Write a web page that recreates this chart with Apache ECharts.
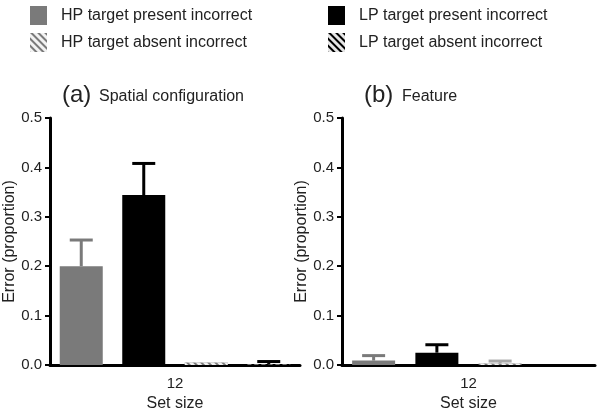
<!DOCTYPE html>
<html>
<head>
<meta charset="utf-8">
<script src="https://cdn.jsdelivr.net/npm/echarts@6/dist/echarts.min.js"></script>
<style>html,body{margin:0;padding:0;background:#fff}#c{width:601px;height:413px}</style>
</head>
<body>
<div id="c"></div>
<script>
const categories = ['12'];
const seriesNames = ['HP target present incorrect', 'LP target present incorrect', 'HP target absent incorrect', 'LP target absent incorrect'];
const slots = ['HP present', 'LP present', 'HP absent', 'LP absent'];
const spatialMeans = [0.200, 0.344, 0.005, 0.001];
const spatialErrTop = [0.253, 0.408, null, 0.007];
const featureMeans = [0.009, 0.025, 0.003, 0];
const featureErrTop = [0.019, 0.041, 0.008, null];
const panelTitles = [['(a)', 'Spatial configuration'], ['(b)', 'Feature']];
const yMin = 0, yMax = 0.5, yStep = 0.1;

const FONT = '"Liberation Sans", Arial, Helvetica, sans-serif';
const GRAY = '#7a7a7a';
const barColors = [GRAY, '#000', GRAY, '#000'];
const errColors = [GRAY, '#000', '#a8a8a8', '#000'];
const hatch = {symbol: 'rect', symbolSize: 1, dashArrayX: [1, 0], dashArrayY: [3, 2], rotation: Math.PI / 4, color: 'rgba(255,255,255,0.9)'};

const chart = echarts.init(document.getElementById('c'), null, {renderer: 'canvas'});

const grids = [
  {left: 50, right: 301, top: 118, bottom: 48, containLabel: false, outerBoundsMode: 'none'},
  {left: 342, right: 6, top: 118, bottom: 48, containLabel: false, outerBoundsMode: 'none'}
];

const xAxes = [], yAxes = [], series = [];
const panels = [[spatialMeans, spatialErrTop, 30], [featureMeans, featureErrTop, 26]];
panels.forEach(([means, errs, nameGap], g) => {
  xAxes.push({
    type: 'category', gridIndex: g, data: categories, position: 'bottom',
    axisLine: {lineStyle: {color: '#000', width: 3}},
    axisTick: {show: false},
    axisLabel: {fontSize: 15, color: '#222', fontFamily: FONT, margin: 11},
    name: 'Set size', nameLocation: 'middle', nameGap: 28,
    nameTextStyle: {fontSize: 16, color: '#222', fontFamily: FONT}
  });
  xAxes.push({
    type: 'category', gridIndex: g, data: slots, show: false
  });
  yAxes.push({
    type: 'value', gridIndex: g, min: yMin, max: yMax, interval: yStep,
    axisLine: {show: true, lineStyle: {color: '#000', width: 3}},
    axisTick: {show: true, length: 5, lineStyle: {color: '#000', width: 2}},
    splitLine: {show: false},
    axisLabel: {fontSize: 15, color: '#222', fontFamily: FONT, margin: 8, formatter: v => v.toFixed(1)},
    name: 'Error (proportion)', nameLocation: 'middle', nameGap: nameGap,
    nameTextStyle: {fontSize: 16, color: '#222', fontFamily: FONT}
  });
  const hiddenX = g * 2 + 1;
  seriesNames.forEach((nm, i) => {
    const item = {color: barColors[i]};
    if (i >= 2) item.decal = hatch;
    series.push({
      type: 'bar', name: nm, xAxisIndex: hiddenX, yAxisIndex: g,
      barWidth: 43, barGap: '-100%',
      itemStyle: item,
      data: slots.map((s, j) => j === i ? means[i] : '-'),
      z: 2
    });
  });
  const errData = [];
  errs.forEach((t, i) => { if (t !== null) errData.push([i, means[i], t]); });
  series.push({
    type: 'custom', name: 'err' + g, xAxisIndex: hiddenX, yAxisIndex: g, z: 5,
    data: errData,
    renderItem: function (params, api) {
      const x = api.value(0), v = api.value(1), t = api.value(2);
      const p0 = api.coord([x, v]);
      const p1 = api.coord([x, t]);
      const hw = 11.5;
      const st = {stroke: errColors[x], lineWidth: 3};
      return {type: 'group', children: [
        {type: 'line', shape: {x1: p0[0], y1: p0[1], x2: p1[0], y2: p1[1]}, style: st},
        {type: 'line', shape: {x1: p1[0] - hw, y1: p1[1], x2: p1[0] + hw, y2: p1[1]}, style: st}
      ]};
    }
  });
});

const titles = [
  {text: panelTitles[0][0], left: 57, top: 78, textStyle: {fontSize: 24, fontWeight: 'normal', color: '#222', fontFamily: FONT}},
  {text: panelTitles[0][1], left: 94, top: 84, textStyle: {fontSize: 16, fontWeight: 'normal', color: '#222', fontFamily: FONT}},
  {text: panelTitles[1][0], left: 359, top: 78, textStyle: {fontSize: 24, fontWeight: 'normal', color: '#222', fontFamily: FONT}},
  {text: panelTitles[1][1], left: 397, top: 84, textStyle: {fontSize: 16, fontWeight: 'normal', color: '#222', fontFamily: FONT}}
];

const legendBase = {
  orient: 'vertical', top: 1, itemWidth: 17, itemHeight: 19, itemGap: 8,
  icon: 'rect', selectedMode: false,
  textStyle: {fontSize: 16, color: '#222', fontFamily: FONT, padding: [0, 0, 0, 9]}
};

chart.setOption({
  animation: false,
  backgroundColor: '#fff',
  title: titles,
  legend: [
    Object.assign({}, legendBase, {left: 25, data: [seriesNames[0], seriesNames[2]]}),
    Object.assign({}, legendBase, {left: 323, data: [seriesNames[1], seriesNames[3]]})
  ],
  grid: grids,
  xAxis: xAxes,
  yAxis: yAxes,
  series: series
});
</script>
</body>
</html>
